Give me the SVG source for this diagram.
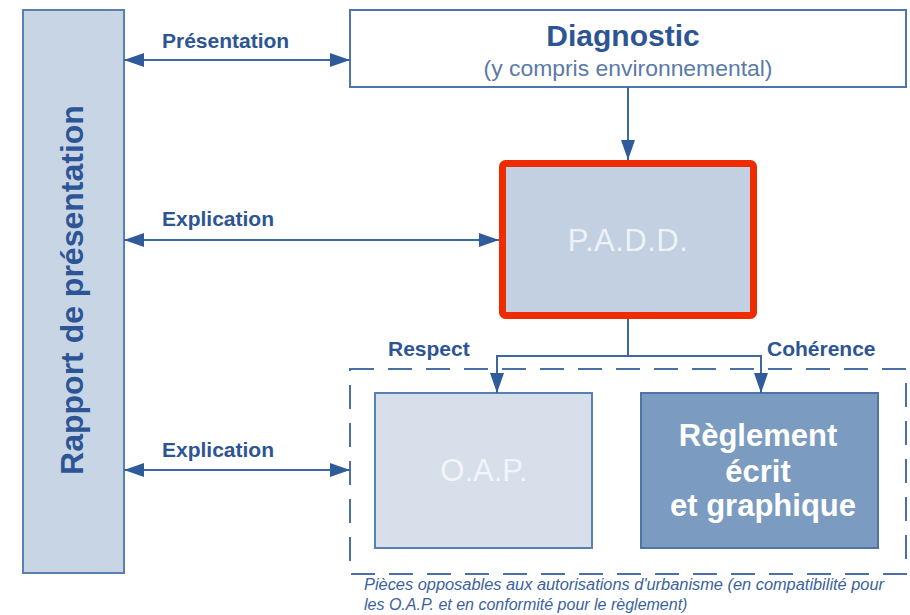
<svg xmlns="http://www.w3.org/2000/svg" width="910" height="615" viewBox="0 0 910 615">
<defs>
<marker id="ah" viewBox="0 0 20 14" refX="20" refY="7" markerWidth="20" markerHeight="14" markerUnits="userSpaceOnUse" orient="auto-start-reverse">
<path d="M0,0 L20,7 L0,14 Z" fill="#2f5b9a"/>
</marker>
<style>
.lbl{font-family:"Liberation Sans",Arial,sans-serif;font-weight:bold;font-size:21px;fill:#2d5596}
.con{stroke:#3d68a3;stroke-width:2;fill:none}
.big{font-family:"Liberation Sans",Arial,sans-serif;text-anchor:middle}
</style>
</defs>
<rect width="910" height="615" fill="#ffffff"/>

<g id="rapport">
<rect x="23" y="10" width="101" height="563" fill="#c8d5e5" stroke="#5a7fb1" stroke-width="2"/>
<text class="big" transform="translate(83,290) rotate(-90)" font-size="32" font-weight="bold" fill="#2d5596">Rapport de présentation</text>
</g>

<g id="diagnostic">
<rect x="350" y="10" width="556" height="77" fill="#ffffff" stroke="#4f76aa" stroke-width="2"/>
<text class="big" x="623" y="46" font-size="30" font-weight="bold" fill="#2d5596">Diagnostic</text>
<text class="big" x="628" y="76" font-size="22" fill="#5a7aa8" textLength="289" lengthAdjust="spacingAndGlyphs">(y compris environnemental)</text>
</g>

<g id="padd">
<rect x="502.5" y="163.5" width="251" height="152" rx="3" fill="#c2d0e1" stroke="#ee2c00" stroke-width="7"/>
<text class="big" x="628" y="251" font-size="31" fill="#eef2f7" letter-spacing="0.5">P.A.D.D.</text>
</g>

<g id="pieces">
<rect x="350" y="369" width="556" height="205" fill="none" stroke="#4a6fa5" stroke-width="2" stroke-dasharray="24 14"/>
<text font-family="'Liberation Sans',Arial,sans-serif" font-style="italic" font-size="16" fill="#3a62a0"><tspan x="364" y="590" textLength="520" lengthAdjust="spacingAndGlyphs">Pièces opposables aux autorisations d'urbanisme (en compatibilité pour</tspan><tspan x="364" y="610">les O.A.P. et en conformité pour le règlement)</tspan></text>
</g>

<g id="oap">
<rect x="375" y="393" width="217" height="155" fill="#d6dfea" stroke="#5a7fb1" stroke-width="2"/>
<text class="big" x="484" y="481" font-size="31" fill="#f2f5f9">O.A.P.</text>
</g>

<g id="reglement">
<rect x="641" y="393" width="237" height="155" fill="#7b9bc0" stroke="#4f75a8" stroke-width="2"/>
<text class="big" font-size="31" font-weight="bold" fill="#ffffff"><tspan x="758" y="446">Règlement</tspan><tspan x="758" y="482">écrit</tspan><tspan x="763" y="516">et graphique</tspan></text>
</g>

<g id="connectors">
<line class="con" x1="124" y1="60" x2="350" y2="60" marker-start="url(#ah)" marker-end="url(#ah)"/>
<line class="con" x1="124" y1="240" x2="499" y2="240" marker-start="url(#ah)" marker-end="url(#ah)"/>
<line class="con" x1="124" y1="470" x2="350" y2="470" marker-start="url(#ah)" marker-end="url(#ah)"/>
<line class="con" x1="628" y1="87" x2="628" y2="160" marker-end="url(#ah)"/>
<polyline class="con" points="628,319 628,356"/>
<polyline class="con" points="497,393 497,356 761,356 761,393" marker-start="url(#ah)" marker-end="url(#ah)"/>
<text class="lbl" x="162" y="48">Présentation</text>
<text class="lbl" x="162" y="226">Explication</text>
<text class="lbl" x="162" y="457">Explication</text>
<text class="lbl" x="388" y="356">Respect</text>
<text class="lbl" x="767" y="356">Cohérence</text>
</g>
</svg>
